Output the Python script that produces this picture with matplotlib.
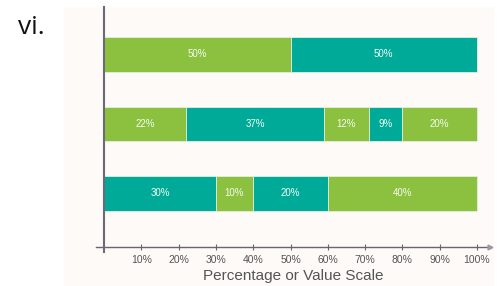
import matplotlib
matplotlib.use("Agg")
import matplotlib.pyplot as plt
from matplotlib.patches import Rectangle

# Data (top to bottom)
rows = ["A", "B", "C"]
row1_values = [50, 50]
row1_colors = ["green", "teal"]
row2_values = [22, 37, 12, 9, 20]
row2_colors = ["green", "teal", "green", "teal", "green"]
row3_values = [30, 10, 20, 40]
row3_colors = ["teal", "green", "teal", "green"]
tick_values = [10, 20, 30, 40, 50, 60, 70, 80, 90, 100]
tick_labels = ["10%", "20%", "30%", "40%", "50%", "60%", "70%", "80%", "90%", "100%"]
panel_label = "vi."
x_label = "Percentage or Value Scale"

palette = {"green": "#8cc13f", "teal": "#00aa98"}

W, H = 498, 286
fig = plt.figure(figsize=(W / 100, H / 100), dpi=100)
fig.patch.set_facecolor("white")

# off-white panel background
fig.patches.append(Rectangle((64 / W, 0), (494 - 64) / W, 1 - 7 / H,
                             transform=fig.transFigure, facecolor="#fdfaf7",
                             edgecolor="none", zorder=-5))

fig.text(18 / W, 1 - 28 / H, panel_label, fontsize=19, color="#111111",
         va="center", ha="left", family="Open Sans")

ax_left, ax_right = 96, 490
ax_top, ax_bottom = 7, 247
ax = fig.add_axes([ax_left / W, 1 - ax_bottom / H, (ax_right - ax_left) / W,
                   (ax_bottom - ax_top) / H])
ax.patch.set_alpha(0)
ax.set_zorder(1)

px_per_unit = (477 - 104) / 100.0
ax.set_xlim(-(104 - ax_left) / px_per_unit, (ax_right - 104) / px_per_unit)
row_spacing = 69.5
ax.set_ylim(2 + (ax_bottom - 193.5) / row_spacing, -(54.5 - ax_top) / row_spacing)

all_rows = [(row1_values, row1_colors), (row2_values, row2_colors),
            (row3_values, row3_colors)]
for i, (vals, cols) in enumerate(all_rows):
    left = 0
    for v, c in zip(vals, cols):
        ax.barh(i, v, left=left, height=0.5, color=palette[c],
                edgecolor="#e3eedd", linewidth=0.6, zorder=2)
        ax.text(left + v / 2, i, f"{v}%", ha="center", va="center",
                fontsize=7, color="#f4faf0", zorder=3, family="Liberation Sans")
        left += v

for s in ["top", "right", "left"]:
    ax.spines[s].set_visible(False)
ax.spines["bottom"].set_color("#666670")
ax.spines["bottom"].set_linewidth(1.0)

# y axis line
ylo, yhi = ax.get_ylim()
ax.plot([0, 0], [yhi, ylo + 5 / row_spacing],
        color="#6a6a78", linewidth=1.5, clip_on=False, zorder=4)
# small arrow head at right end of x axis
ax.plot([ax.get_xlim()[1]], [ylo], marker=">", markersize=3.5, color="#9a9aa4",
        clip_on=False, zorder=4)

ax.set_yticks([])
ax.set_xticks(tick_values)
ax.set_xticklabels(tick_labels, fontsize=7.5, color="#555555", family="Liberation Sans")
ax.tick_params(axis="x", direction="inout", length=5, width=0.8, color="#666670", pad=3)

ax.set_xlabel(x_label, fontsize=11, color="#555555", family="Liberation Sans", labelpad=3)

fig.savefig("out.png", dpi=100, facecolor=fig.get_facecolor())
